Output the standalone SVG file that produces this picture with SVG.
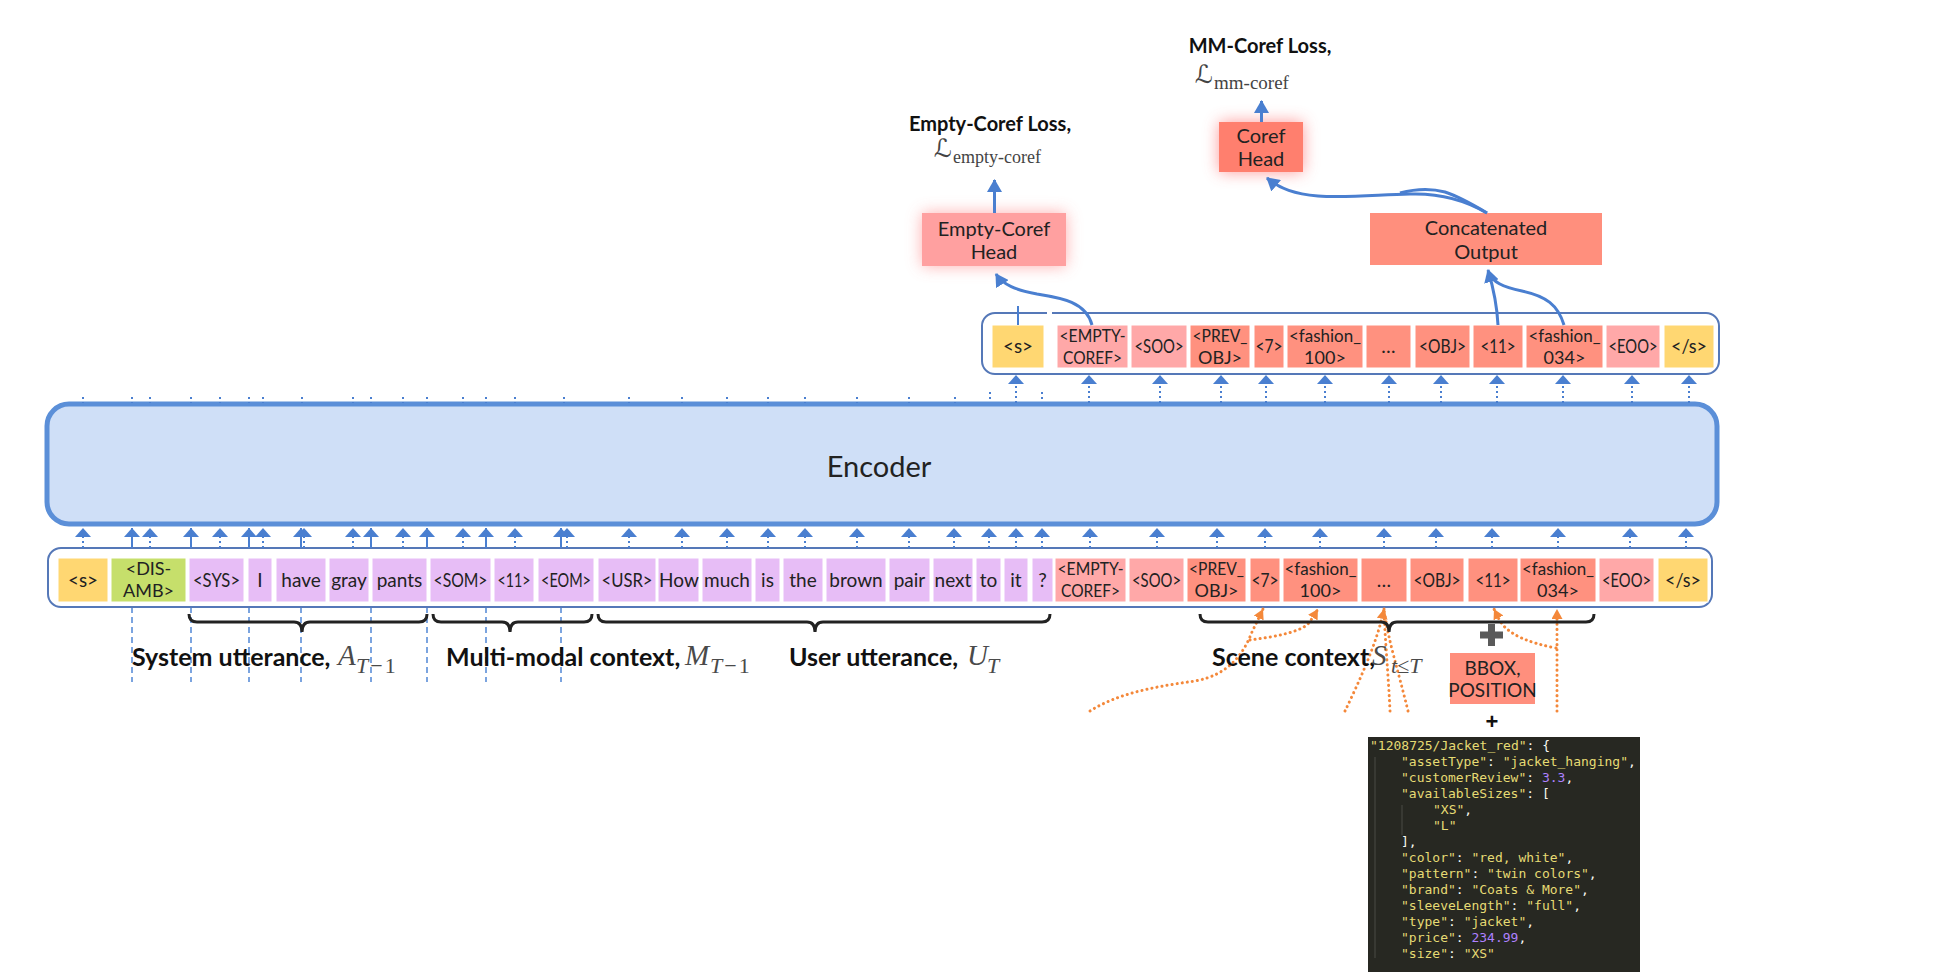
<svg xmlns="http://www.w3.org/2000/svg" width="1945" height="972" viewBox="0 0 1945 972">
<defs>
<style>
.tk{stroke:#fff;stroke-width:1}
.y{fill:#ffd772}.g{fill:#c6df6b}.p{fill:#e7bdf6}.k{fill:#ffa8a8}.s{fill:#ff917f}
.tt{font-family:Lato,"Liberation Sans",sans-serif;font-size:19px;fill:#222;text-anchor:middle}
.tb{font-size:19.5px}
.t2{font-size:18px}
.hd{font-family:Lato,"Liberation Sans",sans-serif;font-size:20px;fill:#222;text-anchor:middle}
.lbl{font-family:Lato,"Liberation Sans",sans-serif;font-weight:bold;font-size:25px;fill:#111}
.loss{font-family:Lato,"Liberation Sans",sans-serif;font-weight:bold;font-size:20px;fill:#111;text-anchor:middle}
.math{font-family:"Liberation Serif",serif;font-style:italic;fill:#4a4a4a}
.cal{font-family:"DejaVu Serif","DejaVu Sans",serif;fill:#444}
.sub{font-family:"Liberation Serif",serif;fill:#444}
.code{font-family:"DejaVu Sans Mono","Liberation Mono",monospace;font-size:13px}
.str{fill:#e6db74}.pun{fill:#f8f8f2}.num{fill:#ae81ff}
.ar{stroke:#4a7fd0;stroke-width:3;fill:none}
.dot{stroke:#4a7fd0;stroke-width:2;stroke-dasharray:2 3}
.sol{stroke:#4a7fd0;stroke-width:2}
.dash{stroke:#5b8ed8;stroke-width:1.6;stroke-dasharray:6 4}
.or{stroke:#f4883a;stroke-width:3;fill:none;stroke-dasharray:0.1 5;stroke-linecap:round}
.br{stroke:#222;stroke-width:3;fill:none}
</style>
<marker id="sm" viewBox="0 0 9 16" refX="9" refY="8" markerUnits="userSpaceOnUse" markerWidth="9" markerHeight="16" orient="auto"><path d="M0,0 L9,8 L0,16 z" fill="#4a7fd0"/></marker>
<marker id="big" viewBox="0 0 13 15" refX="12" refY="7.5" markerUnits="userSpaceOnUse" markerWidth="13" markerHeight="15" orient="auto"><path d="M0,0 L13,7.5 L0,15 z" fill="#4a7fd0"/></marker>
<marker id="om" viewBox="0 0 10 11" refX="10" refY="5.5" markerUnits="userSpaceOnUse" markerWidth="10" markerHeight="11" orient="auto"><path d="M0,0 L10,5.5 L0,11 z" fill="#f4883a"/></marker>
<filter id="glow" x="-40%" y="-60%" width="180%" height="220%"><feGaussianBlur stdDeviation="8"/></filter>
</defs>
<rect width="1945" height="972" fill="#fff"/>

<!-- dashed guide lines (behind) -->
<g id="guides">
<line class="dash" x1="132" y1="537" x2="132" y2="682"/>
<line class="dash" x1="191" y1="537" x2="191" y2="682"/>
<line class="dash" x1="249" y1="537" x2="249" y2="682"/>
<line class="dash" x1="301" y1="537" x2="301" y2="682"/>
<line class="dash" x1="371" y1="537" x2="371" y2="682"/>
<line class="dash" x1="427" y1="537" x2="427" y2="682"/>
<line class="dash" x1="486" y1="537" x2="486" y2="682"/>
<line class="dash" x1="561" y1="537" x2="561" y2="682"/>
</g>

<!-- Encoder -->
<g id="encoder">
<rect x="47" y="404" width="1670" height="120" rx="22" fill="#cfdff7" stroke="#5b8fd8" stroke-width="5"/>
<text x="879" y="477" font-family="Lato,'Liberation Sans',sans-serif" font-size="29" fill="#222" text-anchor="middle">Encoder</text>
</g>

<!-- bottom input row -->
<g id="input-row">
<rect x="48" y="548" width="1664" height="59" rx="13" fill="#fff" stroke="#5578b8" stroke-width="2"/>
<g id="b1"><rect class="tk y" x="58" y="558" width="50" height="44"/><text class="tt tb" x="83" y="587" textLength="30" lengthAdjust="spacingAndGlyphs">&lt;s&gt;</text></g>
<g id="b2"><rect class="tk g" x="111" y="558" width="75" height="44"/><text class="tt t2" x="148.5" y="575">&lt;DIS-</text><text class="tt t2" x="148.5" y="597">AMB&gt;</text></g>
<g id="b3"><rect class="tk p" x="189" y="558" width="55" height="44"/><text class="tt tb" x="216.5" y="587" textLength="47" lengthAdjust="spacingAndGlyphs">&lt;SYS&gt;</text></g>
<g id="b4"><rect class="tk p" x="248" y="558" width="24" height="44"/><text class="tt" x="260" y="587">I</text></g>
<g id="b5"><rect class="tk p" x="276" y="558" width="50" height="44"/><text class="tt" x="301" y="587">have</text></g>
<g id="b6"><rect class="tk p" x="329" y="558" width="40" height="44"/><text class="tt" x="349" y="587">gray</text></g>
<g id="b7"><rect class="tk p" x="372" y="558" width="55" height="44"/><text class="tt" x="399.5" y="587">pants</text></g>
<g id="b8"><rect class="tk p" x="430" y="558" width="61" height="44"/><text class="tt tb" x="460.5" y="587" textLength="54" lengthAdjust="spacingAndGlyphs">&lt;SOM&gt;</text></g>
<g id="b9"><rect class="tk p" x="494" y="558" width="40" height="44"/><text class="tt tb" x="514" y="587" textLength="33" lengthAdjust="spacingAndGlyphs">&lt;11&gt;</text></g>
<g id="b10"><rect class="tk p" x="538" y="558" width="56" height="44"/><text class="tt" x="566" y="587" font-size="17.5" textLength="50" lengthAdjust="spacingAndGlyphs">&lt;EOM&gt;</text></g>
<g id="b11"><rect class="tk p" x="598" y="558" width="58" height="44"/><text class="tt" x="627" y="587" font-size="18" textLength="51" lengthAdjust="spacingAndGlyphs">&lt;USR&gt;</text></g>
<g id="b12"><rect class="tk p" x="658" y="558" width="41" height="44"/><text class="tt" x="679" y="587">How</text></g>
<g id="b13"><rect class="tk p" x="702" y="558" width="50" height="44"/><text class="tt" x="727" y="587">much</text></g>
<g id="b14"><rect class="tk p" x="755" y="558" width="25" height="44"/><text class="tt" x="767.5" y="587">is</text></g>
<g id="b15"><rect class="tk p" x="783" y="558" width="40" height="44"/><text class="tt" x="803" y="587">the</text></g>
<g id="b16"><rect class="tk p" x="826" y="558" width="60" height="44"/><text class="tt" x="856" y="587">brown</text></g>
<g id="b17"><rect class="tk p" x="889" y="558" width="41" height="44"/><text class="tt" x="909.5" y="587">pair</text></g>
<g id="b18"><rect class="tk p" x="933" y="558" width="40" height="44"/><text class="tt" x="953" y="587">next</text></g>
<g id="b19"><rect class="tk p" x="976" y="558" width="25" height="44"/><text class="tt" x="988.5" y="587">to</text></g>
<g id="b20"><rect class="tk p" x="1004" y="558" width="24" height="44"/><text class="tt" x="1016" y="587">it</text></g>
<g id="b21"><rect class="tk p" x="1032" y="558" width="21" height="44"/><text class="tt" x="1042.5" y="587">?</text></g>
<g id="b22"><rect class="tk k" x="1055" y="558" width="71" height="44"/><text class="tt t2" x="1090.5" y="575" textLength="66" lengthAdjust="spacingAndGlyphs">&lt;EMPTY-</text><text class="tt t2" x="1090.5" y="597" textLength="59" lengthAdjust="spacingAndGlyphs">COREF&gt;</text></g>
<g id="b23"><rect class="tk k" x="1129" y="558" width="55" height="44"/><text class="tt tb" x="1156.5" y="587" textLength="49" lengthAdjust="spacingAndGlyphs">&lt;SOO&gt;</text></g>
<g id="b24"><rect class="tk s" x="1187" y="558" width="59" height="44"/><text class="tt t2" x="1216.5" y="575" textLength="55" lengthAdjust="spacingAndGlyphs">&lt;PREV_</text><text class="tt t2" x="1216.5" y="597">OBJ&gt;</text></g>
<g id="b25"><rect class="tk s" x="1250" y="558" width="30" height="44"/><text class="tt tb" x="1265" y="587" textLength="27" lengthAdjust="spacingAndGlyphs">&lt;7&gt;</text></g>
<g id="b26"><rect class="tk s" x="1283" y="558" width="75" height="44"/><text class="tt t2" x="1320.5" y="575" textLength="72" lengthAdjust="spacingAndGlyphs">&lt;fashion_</text><text class="tt t2" x="1320.5" y="597">100&gt;</text></g>
<g id="b27"><rect class="tk s" x="1361" y="558" width="46" height="44"/><text class="tt" x="1384" y="587">…</text></g>
<g id="b28"><rect class="tk s" x="1410" y="558" width="54" height="44"/><text class="tt tb" x="1437" y="587" textLength="47" lengthAdjust="spacingAndGlyphs">&lt;OBJ&gt;</text></g>
<g id="b29"><rect class="tk s" x="1468" y="558" width="50" height="44"/><text class="tt tb" x="1493" y="587" textLength="35" lengthAdjust="spacingAndGlyphs">&lt;11&gt;</text></g>
<g id="b30"><rect class="tk s" x="1520" y="558" width="76" height="44"/><text class="tt t2" x="1558" y="575" textLength="72" lengthAdjust="spacingAndGlyphs">&lt;fashion_</text><text class="tt t2" x="1558" y="597">034&gt;</text></g>
<g id="b31"><rect class="tk k" x="1599" y="558" width="55" height="44"/><text class="tt tb" x="1626.5" y="587" textLength="49" lengthAdjust="spacingAndGlyphs">&lt;EOO&gt;</text></g>
<g id="b32"><rect class="tk y" x="1658" y="558" width="50" height="44"/><text class="tt tb" x="1683" y="587" textLength="36" lengthAdjust="spacingAndGlyphs">&lt;/s&gt;</text></g>
</g>

<!-- top output row -->
<g id="output-row">
<rect x="982" y="313" width="737" height="61" rx="13" fill="#fff" stroke="#5578b8" stroke-width="2"/>
<rect x="1047" y="309" width="5" height="10" fill="#fff"/>
<g id="t1"><rect class="tk y" x="992" y="325" width="52" height="43"/><text class="tt tb" x="1018" y="353" textLength="30" lengthAdjust="spacingAndGlyphs">&lt;s&gt;</text></g>
<g id="t2"><rect class="tk k" x="1057" y="325" width="71" height="43"/><text class="tt t2" x="1092.5" y="342" textLength="66" lengthAdjust="spacingAndGlyphs">&lt;EMPTY-</text><text class="tt t2" x="1092.5" y="364" textLength="59" lengthAdjust="spacingAndGlyphs">COREF&gt;</text></g>
<g id="t3"><rect class="tk k" x="1131" y="325" width="56" height="43"/><text class="tt tb" x="1159" y="353" textLength="49" lengthAdjust="spacingAndGlyphs">&lt;SOO&gt;</text></g>
<g id="t4"><rect class="tk s" x="1190" y="325" width="60" height="43"/><text class="tt t2" x="1220" y="342" textLength="55" lengthAdjust="spacingAndGlyphs">&lt;PREV_</text><text class="tt t2" x="1220" y="364">OBJ&gt;</text></g>
<g id="t5"><rect class="tk s" x="1254" y="325" width="30" height="43"/><text class="tt tb" x="1269" y="353" textLength="27" lengthAdjust="spacingAndGlyphs">&lt;7&gt;</text></g>
<g id="t6"><rect class="tk s" x="1287" y="325" width="76" height="43"/><text class="tt t2" x="1325" y="342" textLength="72" lengthAdjust="spacingAndGlyphs">&lt;fashion_</text><text class="tt t2" x="1325" y="364">100&gt;</text></g>
<g id="t7"><rect class="tk s" x="1366" y="325" width="45" height="43"/><text class="tt" x="1388.5" y="353">…</text></g>
<g id="t8"><rect class="tk s" x="1415" y="325" width="55" height="43"/><text class="tt tb" x="1442.5" y="353" textLength="47" lengthAdjust="spacingAndGlyphs">&lt;OBJ&gt;</text></g>
<g id="t9"><rect class="tk s" x="1473" y="325" width="50" height="43"/><text class="tt tb" x="1498" y="353" textLength="35" lengthAdjust="spacingAndGlyphs">&lt;11&gt;</text></g>
<g id="t10"><rect class="tk s" x="1526" y="325" width="77" height="43"/><text class="tt t2" x="1564.5" y="342" textLength="72" lengthAdjust="spacingAndGlyphs">&lt;fashion_</text><text class="tt t2" x="1564.5" y="364">034&gt;</text></g>
<g id="t11"><rect class="tk k" x="1606" y="325" width="54" height="43"/><text class="tt tb" x="1633" y="353" textLength="49" lengthAdjust="spacingAndGlyphs">&lt;EOO&gt;</text></g>
<g id="t12"><rect class="tk y" x="1664" y="325" width="50" height="43"/><text class="tt tb" x="1689" y="353" textLength="36" lengthAdjust="spacingAndGlyphs">&lt;/s&gt;</text></g>
</g>

<!-- heads -->
<g id="empty-coref-head">
<rect x="922" y="213" width="144" height="53" fill="#ff9a9a" opacity="0.8" filter="url(#glow)"/>
<rect x="922" y="213" width="144" height="53" fill="#ffa0a0"/>
<text class="hd" x="994" y="236">Empty-Coref</text>
<text class="hd" x="994" y="259">Head</text>
</g>
<g id="coref-head">
<rect x="1219" y="122" width="84" height="50" fill="#ff8080" opacity="0.8" filter="url(#glow)"/>
<rect x="1219" y="122" width="84" height="50" fill="#ff7f6e"/>
<text class="hd" x="1261" y="143">Coref</text>
<text class="hd" x="1261" y="166">Head</text>
</g>
<g id="concat">
<rect x="1370" y="213" width="232" height="52" fill="#ff8f7d"/>
<text class="hd" x="1486" y="235">Concatenated</text>
<text class="hd" x="1486" y="259">Output</text>
</g>
<g id="bbox">
<rect x="1450" y="653" width="85" height="51" fill="#ff8f7d"/>
<text class="tt" x="1492.5" y="675" font-size="16">BBOX,</text>
<text class="tt" x="1492.5" y="697" font-size="16">POSITION</text>
</g>

<!-- losses -->
<g id="empty-loss">
<text class="loss" x="990" y="131">Empty-Coref Loss,</text>
<text class="cal" x="934" y="157" font-size="25">ℒ</text>
<text class="sub" x="953" y="163" font-size="18">empty-coref</text>
</g>
<g id="mm-loss">
<text class="loss" x="1260" y="53">MM-Coref Loss,</text>
<text class="cal" x="1195" y="83" font-size="25">ℒ</text>
<text class="sub" x="1214" y="89" font-size="19">mm-coref</text>
</g>

<!-- connectors -->
<g id="connectors">
<!-- encoder -> top row -->
<line class="dot" x1="1016" y1="403" x2="1016" y2="375" marker-end="url(#sm)"/>
<line class="dot" x1="1089" y1="403" x2="1089" y2="375" marker-end="url(#sm)"/>
<line class="dot" x1="1160" y1="403" x2="1160" y2="375" marker-end="url(#sm)"/>
<line class="dot" x1="1221" y1="403" x2="1221" y2="375" marker-end="url(#sm)"/>
<line class="dot" x1="1266" y1="403" x2="1266" y2="375" marker-end="url(#sm)"/>
<line class="dot" x1="1325" y1="403" x2="1325" y2="375" marker-end="url(#sm)"/>
<line class="dot" x1="1389" y1="403" x2="1389" y2="375" marker-end="url(#sm)"/>
<line class="dot" x1="1441" y1="403" x2="1441" y2="375" marker-end="url(#sm)"/>
<line class="dot" x1="1497" y1="403" x2="1497" y2="375" marker-end="url(#sm)"/>
<line class="dot" x1="1563" y1="403" x2="1563" y2="375" marker-end="url(#sm)"/>
<line class="dot" x1="1632" y1="403" x2="1632" y2="375" marker-end="url(#sm)"/>
<line class="dot" x1="1689" y1="403" x2="1689" y2="375" marker-end="url(#sm)"/>
<line class="dot" x1="990" y1="392" x2="990" y2="402"/>
<line class="dot" x1="1042" y1="392" x2="1042" y2="402"/>
<!-- stubs along encoder top -->
<g class="dot" stroke-width="1.5">
<line x1="83" y1="397" x2="83" y2="403"/><line x1="132" y1="397" x2="132" y2="403"/><line x1="150" y1="397" x2="150" y2="403"/><line x1="191" y1="397" x2="191" y2="403"/><line x1="220" y1="397" x2="220" y2="403"/><line x1="249" y1="397" x2="249" y2="403"/><line x1="263" y1="397" x2="263" y2="403"/><line x1="302" y1="397" x2="302" y2="403"/><line x1="353" y1="397" x2="353" y2="403"/><line x1="371" y1="397" x2="371" y2="403"/><line x1="403" y1="397" x2="403" y2="403"/><line x1="427" y1="397" x2="427" y2="403"/><line x1="463" y1="397" x2="463" y2="403"/><line x1="486" y1="397" x2="486" y2="403"/><line x1="515" y1="397" x2="515" y2="403"/><line x1="564" y1="397" x2="564" y2="403"/><line x1="629" y1="397" x2="629" y2="403"/><line x1="682" y1="397" x2="682" y2="403"/><line x1="727" y1="397" x2="727" y2="403"/><line x1="768" y1="397" x2="768" y2="403"/><line x1="805" y1="397" x2="805" y2="403"/><line x1="857" y1="397" x2="857" y2="403"/><line x1="909" y1="397" x2="909" y2="403"/><line x1="955" y1="397" x2="955" y2="403"/>
</g>
<!-- input row -> encoder -->
<line class="dot" x1="83" y1="548" x2="83" y2="528" marker-end="url(#sm)"/>
<line class="dot" x1="150" y1="548" x2="150" y2="528" marker-end="url(#sm)"/>
<line class="dot" x1="220" y1="548" x2="220" y2="528" marker-end="url(#sm)"/>
<line class="dot" x1="263" y1="548" x2="263" y2="528" marker-end="url(#sm)"/>
<line class="dot" x1="304" y1="548" x2="304" y2="528" marker-end="url(#sm)"/>
<line class="dot" x1="353" y1="548" x2="353" y2="528" marker-end="url(#sm)"/>
<line class="dot" x1="403" y1="548" x2="403" y2="528" marker-end="url(#sm)"/>
<line class="dot" x1="463" y1="548" x2="463" y2="528" marker-end="url(#sm)"/>
<line class="dot" x1="515" y1="548" x2="515" y2="528" marker-end="url(#sm)"/>
<line class="dot" x1="567" y1="548" x2="567" y2="528" marker-end="url(#sm)"/>
<line class="dot" x1="629" y1="548" x2="629" y2="528" marker-end="url(#sm)"/>
<line class="dot" x1="682" y1="548" x2="682" y2="528" marker-end="url(#sm)"/>
<line class="dot" x1="727" y1="548" x2="727" y2="528" marker-end="url(#sm)"/>
<line class="dot" x1="768" y1="548" x2="768" y2="528" marker-end="url(#sm)"/>
<line class="dot" x1="805" y1="548" x2="805" y2="528" marker-end="url(#sm)"/>
<line class="dot" x1="857" y1="548" x2="857" y2="528" marker-end="url(#sm)"/>
<line class="dot" x1="909" y1="548" x2="909" y2="528" marker-end="url(#sm)"/>
<line class="dot" x1="954" y1="548" x2="954" y2="528" marker-end="url(#sm)"/>
<line class="dot" x1="989" y1="548" x2="989" y2="528" marker-end="url(#sm)"/>
<line class="dot" x1="1016" y1="548" x2="1016" y2="528" marker-end="url(#sm)"/>
<line class="dot" x1="1042" y1="548" x2="1042" y2="528" marker-end="url(#sm)"/>
<line class="dot" x1="1090" y1="548" x2="1090" y2="528" marker-end="url(#sm)"/>
<line class="dot" x1="1157" y1="548" x2="1157" y2="528" marker-end="url(#sm)"/>
<line class="dot" x1="1217" y1="548" x2="1217" y2="528" marker-end="url(#sm)"/>
<line class="dot" x1="1265" y1="548" x2="1265" y2="528" marker-end="url(#sm)"/>
<line class="dot" x1="1320" y1="548" x2="1320" y2="528" marker-end="url(#sm)"/>
<line class="dot" x1="1384" y1="548" x2="1384" y2="528" marker-end="url(#sm)"/>
<line class="dot" x1="1436" y1="548" x2="1436" y2="528" marker-end="url(#sm)"/>
<line class="dot" x1="1492" y1="548" x2="1492" y2="528" marker-end="url(#sm)"/>
<line class="dot" x1="1558" y1="548" x2="1558" y2="528" marker-end="url(#sm)"/>
<line class="dot" x1="1630" y1="548" x2="1630" y2="528" marker-end="url(#sm)"/>
<line class="dot" x1="1686" y1="548" x2="1686" y2="528" marker-end="url(#sm)"/>
<line class="sol" x1="132" y1="548" x2="132" y2="528" marker-end="url(#sm)"/>
<line class="sol" x1="191" y1="548" x2="191" y2="528" marker-end="url(#sm)"/>
<line class="sol" x1="249" y1="548" x2="249" y2="528" marker-end="url(#sm)"/>
<line class="sol" x1="301" y1="548" x2="301" y2="528" marker-end="url(#sm)"/>
<line class="sol" x1="371" y1="548" x2="371" y2="528" marker-end="url(#sm)"/>
<line class="sol" x1="427" y1="548" x2="427" y2="528" marker-end="url(#sm)"/>
<line class="sol" x1="486" y1="548" x2="486" y2="528" marker-end="url(#sm)"/>
<line class="sol" x1="561" y1="548" x2="561" y2="528" marker-end="url(#sm)"/>
<!-- heads -->
<line class="ar" stroke-width="2.5" x1="994.5" y1="213" x2="994.5" y2="180" marker-end="url(#big)"/>
<line class="ar" stroke-width="2.5" x1="1261.5" y1="122" x2="1261.5" y2="101" marker-end="url(#big)"/>
<line class="sol" x1="1018" y1="306" x2="1018" y2="325"/>
<path class="ar" d="M1092,325 C1086,302 1062,298 1037,294 C1016,290 1003,285 996,274" marker-end="url(#big)"/>
<path class="ar" d="M1498,325 C1497,305 1494,290 1488,270" marker-end="url(#big)"/>
<path class="ar" d="M1564,325 C1558,305 1546,296 1522,291 C1502,287 1493,282 1488,272"/>
<path class="ar" d="M1487,213 C1465,200 1440,193 1410,194 C1375,195 1345,198 1318,196 C1295,194 1280,189 1267,178" marker-end="url(#big)"/>
<path class="ar" stroke-width="2.5" d="M1487,213 C1472,204 1460,197 1445,192 C1430,188 1415,189 1400,193"/>
<!-- scene features (orange) -->
<path class="or" d="M1090,711 C1120,692 1160,686 1195,681 C1228,675 1243,655 1252,632 L1263,609" marker-end="url(#om)"/>
<path class="or" d="M1250,640 C1272,637 1298,633 1308,624 C1312,619 1315,614 1318,609" marker-end="url(#om)"/>
<path class="or" d="M1345,711 C1360,680 1378,640 1384,609" marker-end="url(#om)"/>
<path class="or" d="M1390,711 C1388,670 1385,640 1384,609"/>
<path class="or" d="M1408,711 C1398,670 1388,640 1384,609"/>
<path class="or" d="M1556,648 C1530,643 1512,636 1502,624 C1498,618 1496,613 1494,609" marker-end="url(#om)"/>
<path class="or" d="M1557,711 L1557,609" marker-end="url(#om)"/>
</g>

<!-- braces and labels -->
<g id="braces">
<path class="br" d="M189,614 Q189,622 197,622 L294,622 Q302,622 302,632 Q302,622 310,622 L419,622 Q427,622 427,614"/>
<path class="br" d="M433,614 Q433,622 441,622 L502,622 Q510,622 510,632 Q510,622 518,622 L584,622 Q592,622 592,614"/>
<path class="br" d="M598,614 Q598,622 606,622 L807,622 Q815,622 815,632 Q815,622 823,622 L1042,622 Q1050,622 1050,614"/>
<path class="br" d="M1200,614 Q1200,622 1208,622 L1381,622 Q1389,622 1389,632 Q1389,622 1397,622 L1586,622 Q1594,622 1594,614"/>
</g>
<g id="labels">
<text class="lbl" x="132" y="666">System utterance,</text>
<text class="math" x="338" y="665" font-size="29">A</text>
<text class="math" x="356" y="673" font-size="22" letter-spacing="2">T<tspan font-style="normal">−1</tspan></text>
<text class="lbl" x="446" y="666">Multi-modal context,</text>
<text class="math" x="685" y="665" font-size="29">M</text>
<text class="math" x="710" y="673" font-size="22" letter-spacing="2">T<tspan font-style="normal">−1</tspan></text>
<text class="lbl" x="789" y="666">User utterance,</text>
<text class="math" x="967" y="665" font-size="29">U</text>
<text class="math" x="987" y="673" font-size="22">T</text>
<text class="lbl" x="1212" y="666">Scene context,</text>
<text class="math" x="1372" y="665" font-size="29">S</text>
<text class="math" x="1391" y="673" font-size="22">t<tspan font-style="normal">≤</tspan>T</text>
</g>

<g id="plus">
<path d="M1480,635 H1503 M1491.5,624 V646" stroke="#5a5a5a" stroke-width="7" fill="none"/>
<text x="1492" y="729" font-family="'Liberation Sans',sans-serif" font-weight="bold" font-size="22" fill="#111" text-anchor="middle">+</text>
</g>

<!-- metadata code box -->
<g id="code">
<rect x="1368" y="737" width="272" height="240" fill="#272822"/>
<line x1="1375" y1="757" x2="1375" y2="958" stroke="#4a4a44" stroke-width="1"/>
<line x1="1402" y1="805" x2="1402" y2="835" stroke="#4a4a44" stroke-width="1"/>
<text class="code" x="1370" y="750"><tspan class="str">"1208725/Jacket_red"</tspan><tspan class="pun">: {</tspan></text>
<text class="code" x="1401" y="766"><tspan class="str">"assetType"</tspan><tspan class="pun">: </tspan><tspan class="str">"jacket_hanging"</tspan><tspan class="pun">,</tspan></text>
<text class="code" x="1401" y="782"><tspan class="str">"customerReview"</tspan><tspan class="pun">: </tspan><tspan class="num">3.3</tspan><tspan class="pun">,</tspan></text>
<text class="code" x="1401" y="798"><tspan class="str">"availableSizes"</tspan><tspan class="pun">: [</tspan></text>
<text class="code" x="1433" y="814"><tspan class="str">"XS"</tspan><tspan class="pun">,</tspan></text>
<text class="code" x="1433" y="830"><tspan class="str">"L"</tspan></text>
<text class="code" x="1401" y="846"><tspan class="pun">],</tspan></text>
<text class="code" x="1401" y="862"><tspan class="str">"color"</tspan><tspan class="pun">: </tspan><tspan class="str">"red, white"</tspan><tspan class="pun">,</tspan></text>
<text class="code" x="1401" y="878"><tspan class="str">"pattern"</tspan><tspan class="pun">: </tspan><tspan class="str">"twin colors"</tspan><tspan class="pun">,</tspan></text>
<text class="code" x="1401" y="894"><tspan class="str">"brand"</tspan><tspan class="pun">: </tspan><tspan class="str">"Coats &amp; More"</tspan><tspan class="pun">,</tspan></text>
<text class="code" x="1401" y="910"><tspan class="str">"sleeveLength"</tspan><tspan class="pun">: </tspan><tspan class="str">"full"</tspan><tspan class="pun">,</tspan></text>
<text class="code" x="1401" y="926"><tspan class="str">"type"</tspan><tspan class="pun">: </tspan><tspan class="str">"jacket"</tspan><tspan class="pun">,</tspan></text>
<text class="code" x="1401" y="942"><tspan class="str">"price"</tspan><tspan class="pun">: </tspan><tspan class="num">234.99</tspan><tspan class="pun">,</tspan></text>
<text class="code" x="1401" y="958"><tspan class="str">"size"</tspan><tspan class="pun">: </tspan><tspan class="str">"XS"</tspan></text>
</g>
</svg>
